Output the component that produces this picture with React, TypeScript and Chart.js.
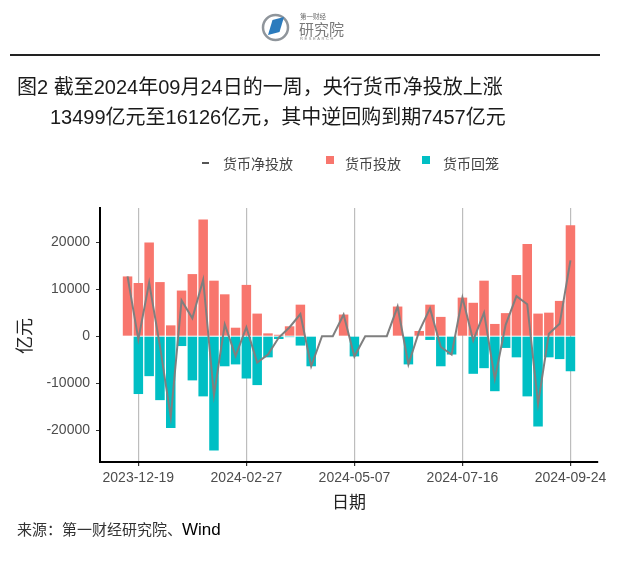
import React, { useEffect, useRef } from 'react';
import { Chart, registerables } from 'chart.js';

Chart.register(...registerables);

// Weekly observation dates (each bar is one week ending on that Tuesday)
const weeks: string[] = [
  '2023-12-12', '2023-12-19', '2023-12-26', '2024-01-02', '2024-01-09', '2024-01-16',
  '2024-01-23', '2024-01-30', '2024-02-06', '2024-02-13', '2024-02-20', '2024-02-27',
  '2024-03-05', '2024-03-12', '2024-03-19', '2024-03-26', '2024-04-02', '2024-04-09',
  '2024-04-16', '2024-04-23', '2024-04-30', '2024-05-07', '2024-05-14', '2024-05-21',
  '2024-05-28', '2024-06-04', '2024-06-11', '2024-06-18', '2024-06-25', '2024-07-02',
  '2024-07-09', '2024-07-16', '2024-07-23', '2024-07-30', '2024-08-06', '2024-08-13',
  '2024-08-20', '2024-08-27', '2024-09-03', '2024-09-10', '2024-09-17', '2024-09-24',
];

// 货币投放 (亿元)
const injection: number[] = [
  12700, 11300, 19900, 11500, 2300, 9700,
  13200, 24800, 11800, 8900, 1800, 10900,
  4800, 600, 300, 2100, 6700, 0,
  0, 0, 4600, 0, 0, 0,
  0, 6300, 0, 1100, 6700, 4100,
  0, 8200, 7100, 11800, 2600, 4900,
  13000, 19600, 4800, 5000, 7500, 23583,
];

// 货币回笼 (亿元)
const withdrawal: number[] = [
  0, -12300, -8500, -13600, -19500, -2100,
  -9400, -12800, -24300, -6400, -6000, -9000,
  -10400, -4500, -600, -200, -2000, -6400,
  0, 0, 0, -4300, 0, 0,
  0, 0, -6000, 0, -800, -6400,
  -3900, 0, -8000, -6800, -11700, -2500,
  -4500, -12800, -19200, -4500, -4873, -7457,
];

// 货币净投放 (亿元)
const netInjection: number[] = [
  12700, -700, 11400, -2100, -17200, 7600,
  3800, 12000, -12500, 2500, -4200, 1900,
  -5600, -3900, -300, 1900, 4700, -6400,
  0, 0, 4600, -4300, 0, 0,
  0, 6300, -6000, 1100, 5900, -2300,
  -3900, 8200, -900, 5000, -9100, 2400,
  8500, 6800, -14400, 500, 2627, 16126,
];

const xTickWeeks: string[] = ['2023-12-19', '2024-02-27', '2024-05-07', '2024-07-16', '2024-09-24'];
const yTickValues: number[] = [-20000, -10000, 0, 10000, 20000];

const toPoints = (arr: number[]) => arr.map((v, i) => ({ x: i, y: v }));

const CJK = '"Liberation Sans", "Noto Sans CJK SC", sans-serif';

export default function App() {
  const ref = useRef<HTMLCanvasElement>(null);

  useEffect(() => {
    document.body.style.margin = '0';
    const canvas = ref.current!;
    const chart = new Chart(canvas, {
      type: 'bar',
      data: {
        datasets: [
          {
            type: 'line',
            label: '货币净投放',
            data: toPoints(netInjection),
            borderColor: '#7F7F7F',
            borderWidth: 2,
            pointRadius: 0,
            tension: 0,
            order: 0,
          } as any,
          {
            type: 'bar',
            label: '货币投放',
            data: toPoints(injection),
            backgroundColor: '#F8766D',
            grouped: false,
            barPercentage: 0.88,
            categoryPercentage: 1,
            order: 1,
          } as any,
          {
            type: 'bar',
            label: '货币回笼',
            data: toPoints(withdrawal),
            backgroundColor: '#00BFC4',
            grouped: false,
            barPercentage: 0.88,
            categoryPercentage: 1,
            order: 2,
          } as any,
        ],
      },
      options: {
        responsive: false,
        animation: false,
        layout: { padding: { top: 208, right: 42, bottom: 0, left: 0 } },
        plugins: { legend: { display: false }, tooltip: { enabled: false } },
        scales: {
          x: {
            type: 'linear',
            min: -2.55,
            max: 43.55,
            offset: false,
            afterBuildTicks: (s: any) => {
              s.ticks = xTickWeeks.map((w) => ({ value: weeks.indexOf(w) }));
            },
            afterFit: (s: any) => {
              s.height = 115;
            },
            ticks: {
              callback: (v: any) => weeks[Math.round(Number(v))],
              font: { family: 'Liberation Sans', size: 14 },
              color: '#4D4D4D',
              padding: 4,
              maxRotation: 0,
              autoSkip: false,
            },
            grid: {
              offset: false,
              color: '#BDBDBD',
              lineWidth: 1.2,
              tickColor: '#333333',
              tickLength: 4,
              drawOnChartArea: true,
            },
            border: { display: true, color: '#000000', width: 2 },
          },
          y: {
            type: 'linear',
            min: -26750,
            max: 27250,
            afterBuildTicks: (s: any) => {
              s.ticks = yTickValues.map((v) => ({ value: v }));
            },
            afterFit: (s: any) => {
              s.width = 100;
            },
            ticks: {
              callback: (v: any) => String(v),
              font: { family: 'Liberation Sans', size: 14 },
              color: '#4D4D4D',
              padding: 6,
            },
            grid: {
              drawOnChartArea: false,
              tickColor: '#333333',
              tickLength: 4,
            },
            border: { display: true, color: '#000000', width: 2 },
          },
        },
      } as any,
    });
    return () => chart.destroy();
  }, []);

  const abs = (s: React.CSSProperties): React.CSSProperties => ({ position: 'absolute', whiteSpace: 'nowrap', ...s });

  return (
    <div style={{ position: 'relative', width: 640, height: 577, background: '#fff', overflow: 'hidden' }}>
      <canvas ref={ref} width={640} height={577} style={{ position: 'absolute', left: 0, top: 0, display: 'block' }} />

      {/* logo */}
      <svg style={{ position: 'absolute', left: 260, top: 10 }} width={100} height={36}>
        <circle cx={15.5} cy={17.5} r={12.5} fill="none" stroke="#8f959b" strokeWidth={2.5} />
        <polygon points="8,25 12.5,10 24,7 19.5,22" fill="#2b7bbd" />
        <text x={40} y={8.5} fontSize={6.5} fill="#666" fontFamily={CJK}>第一财经</text>
        <text x={39} y={24.5} fontSize={15} fill="#7a7a7a" fontFamily={CJK}>研究院</text>
        <text x={40} y={30} fontSize={4} fill="#888" letterSpacing={1.6} fontFamily="Liberation Sans">RESEARCH</text>
      </svg>
      <div style={abs({ left: 10, top: 54, width: 590, height: 2, background: '#222' })} />

      {/* title */}
      <div style={abs({ left: 17, top: 72, fontSize: 20, lineHeight: '30px', color: '#1a1a1a', fontFamily: CJK })}>
        图2 截至2024年09月24日的一周，央行货币净投放上涨
      </div>
      <div style={abs({ left: 50, top: 102, fontSize: 20, lineHeight: '30px', color: '#1a1a1a', fontFamily: CJK })}>
        13499亿元至16126亿元，其中逆回购到期7457亿元
      </div>

      {/* legend */}
      <div style={abs({ left: 202, top: 162, width: 7, height: 2, background: '#555' })} />
      <div style={abs({ left: 223, top: 155, fontSize: 14, lineHeight: '18px', color: '#444', fontFamily: CJK })}>货币净投放</div>
      <div style={abs({ left: 326, top: 156, width: 8, height: 8, background: '#F8766D' })} />
      <div style={abs({ left: 345, top: 155, fontSize: 14, lineHeight: '18px', color: '#444', fontFamily: CJK })}>货币投放</div>
      <div style={abs({ left: 422, top: 156, width: 8, height: 8, background: '#00BFC4' })} />
      <div style={abs({ left: 443, top: 155, fontSize: 14, lineHeight: '18px', color: '#444', fontFamily: CJK })}>货币回笼</div>

      {/* y axis title */}
      <div style={abs({ left: 25, top: 336, fontSize: 18, lineHeight: '20px', color: '#222', fontFamily: CJK, transform: 'translate(-50%, -50%) rotate(-90deg)' })}>
        亿元
      </div>

      {/* x axis title */}
      <div style={abs({ left: 349, top: 503, fontSize: 17, lineHeight: '20px', color: '#222', fontFamily: CJK, transform: 'translate(-50%, -50%)' })}>
        日期
      </div>

      {/* source */}
      <div style={abs({ left: 17, top: 520, fontSize: 15, lineHeight: '20px', color: '#333', fontFamily: CJK })}>
        来源：第一财经研究院、<span style={{ fontSize: 17, color: '#000' }}>Wind</span>
      </div>
    </div>
  );
}
